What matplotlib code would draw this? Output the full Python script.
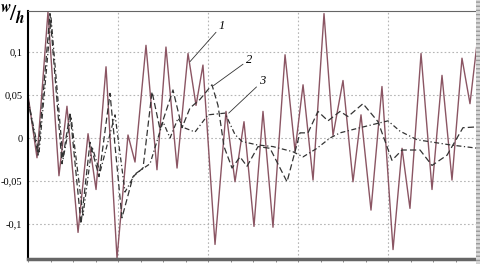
import numpy as np
import matplotlib
matplotlib.use("Agg")
import matplotlib.pyplot as plt
from matplotlib.patches import Rectangle

# curve 1 (solid)
t1 = [0, 0.1, 0.222, 0.344, 0.433, 0.556, 0.667, 0.756, 0.867, 0.989,
      1.111, 1.189, 1.311, 1.433, 1.533, 1.656, 1.778, 1.867, 1.944, 2.078,
      2.2, 2.3, 2.4, 2.511, 2.611, 2.722, 2.856, 2.967, 3.056, 3.167,
      3.289, 3.389, 3.5, 3.611, 3.7, 3.811, 3.933, 4.056, 4.156, 4.244,
      4.367, 4.489, 4.6, 4.711, 4.822, 4.911, 5.0]
w1 = [0.05, -0.023, 0.147, -0.044, 0.037, -0.11, 0.005, -0.06, 0.083, -0.14,
      0.0035, -0.028, 0.108, -0.037, 0.106, -0.035, 0.0985, 0.038, 0.085, -0.124,
      0.031, -0.051, 0.019, -0.103, 0.031, -0.104, 0.097, -0.015, 0.062, -0.049,
      0.145, 0.003, 0.067, -0.051, 0.027, -0.084, 0.06, -0.13, -0.012, -0.082,
      0.0985, -0.06, 0.073, -0.049, 0.093, 0.040, 0.12]

# curve 2 (dashed)
t2 = [0, 0.111, 0.244, 0.378, 0.467, 0.589, 0.689, 0.789, 0.911, 1.044,
      1.167, 1.278, 1.378, 1.467, 1.611, 1.711, 1.8, 1.911, 2.044, 2.111,
      2.178, 2.267, 2.356, 2.433, 2.556, 2.689, 2.878, 3.022, 3.111, 3.222,
      3.333, 3.467, 3.556, 3.722, 3.889, 4.044, 4.156, 4.356, 4.489, 4.656,
      4.833, 5.0]
w2 = [0.045, -0.02, 0.145, -0.03, 0.03, -0.1, -0.005, -0.045, 0.052, -0.093,
      -0.045, -0.035, 0.054, 0.01, 0.056, 0.012, 0.035, 0.045, 0.062, 0.038,
      -0.01, -0.035, -0.022, -0.033, -0.01, -0.012, -0.051, 0.006, 0.006, 0.031,
      0.02, 0.031, 0.025, 0.04, 0.019, -0.026, -0.014, -0.014, -0.032, -0.02,
      0.012, 0.013]

# curve 3 (dash-dot)
t3 = [0, 0.122, 0.256, 0.389, 0.478, 0.611, 0.711, 0.8, 0.967, 1.078,
      1.189, 1.356, 1.5, 1.578, 1.667, 1.733, 1.856, 2.0, 2.189, 2.3,
      2.378, 2.544, 2.722, 2.944, 3.056, 3.211, 3.356, 3.467, 3.689, 4.0,
      4.133, 4.322, 4.689, 5.0]
w3 = [0.045, -0.018, 0.14, -0.025, 0.025, -0.09, -0.01, -0.04, 0.027, -0.063,
      -0.042, -0.03, 0.019, 0.0, 0.023, 0.012, 0.007, 0.027, 0.029, 0.004,
      -0.004, -0.008, -0.01, -0.016, -0.022, -0.012, 0.0, 0.006, 0.012, 0.02,
      0.008, -0.002, -0.008, -0.012]

yticks = [-0.1, -0.05, 0, 0.05, 0.1]
ylabels = ["-0,1", "-0,05", "0", "0,05", "0,1"]

serif = "Liberation Serif"
plt.rcParams["mathtext.fontset"] = "stix"

fig = plt.figure(figsize=(4.8, 2.64), dpi=100)
ax = fig.add_axes([28 / 480, 5 / 264, 450 / 480, 248 / 264])

ax.plot(t1, w1, color="#8b5563", lw=1.0, solid_joinstyle="round")
ax.plot(t2, w2, color="#333333", lw=0.9, dashes=(5, 2.5))
ax.plot(t3, w3, color="#333333", lw=0.9, dashes=(4, 2, 1, 2))

ax.set_xlim(0, 5)
ax.set_ylim(-0.141, 0.148)
ax.set_xticks([1, 2, 3, 4])
ax.set_xticks(np.arange(0, 5.01, 0.25), minor=True)
ax.set_xticklabels([])
ax.set_yticks(yticks)
ax.set_yticklabels(ylabels, fontfamily=serif, fontsize=7.5)
ax.tick_params(axis="y", length=0, pad=4)
ax.tick_params(axis="x", which="both", length=2, width=0.6, color="#777777", direction="out")
ax.grid(True, color="#b5b5b5", ls=(0, (1.5, 2)), lw=0.8)

ax.spines["left"].set_color("black")
ax.spines["left"].set_linewidth(1.5)
ax.spines["top"].set_color("#666666")
ax.spines["top"].set_linewidth(0.8)
ax.spines["bottom"].set_color("#666666")
ax.spines["bottom"].set_linewidth(2.5)
ax.spines["right"].set_visible(False)

# curve labels with leader lines
for txt, xy, xytext in [("1", (1.8, 0.089), (2.12, 0.124)),
                        ("2", (2.06, 0.061), (2.42, 0.084)),
                        ("3", (2.23, 0.029), (2.57, 0.059))]:
    ax.annotate(txt, xy=xy, xytext=xytext, fontfamily=serif, fontstyle="italic",
                fontsize=9, ha="left", va="bottom",
                arrowprops=dict(arrowstyle="-", lw=0.6, color="#333333",
                                shrinkA=0, shrinkB=0))

# w/h axis label
fig.text(13 / 480, 1 - 14 / 264, r"$^{\boldsymbol{w}}\!/_{\boldsymbol{h}}$",
         fontsize=16, ha="center", va="center")

# hatched strip at the right edge
fig.patches.append(Rectangle((476 / 480, 0), 4 / 480, 1, transform=fig.transFigure,
                             facecolor="#d8d8d8", edgecolor="#999999", hatch="----",
                             lw=0))

fig.savefig("out.png", dpi=100)
